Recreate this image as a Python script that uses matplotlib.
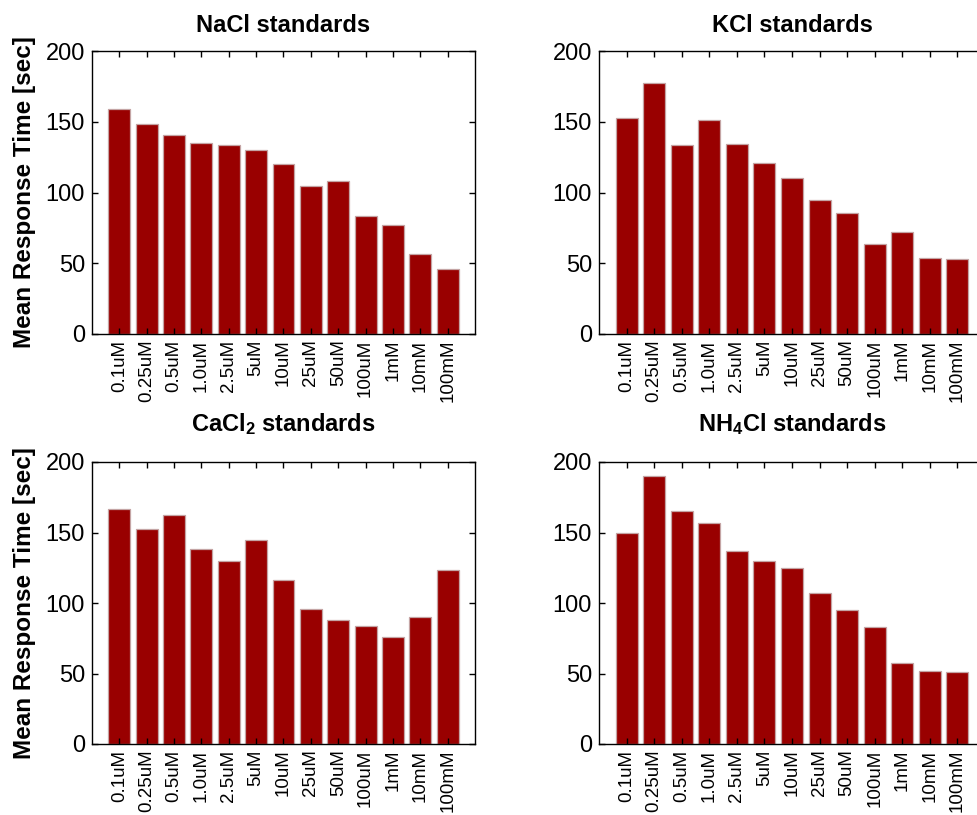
import matplotlib
matplotlib.use('Agg')
import matplotlib.pyplot as plt
import numpy as np

plt.rcParams['font.family'] = ['Liberation Sans', 'DejaVu Sans']
plt.rcParams['mathtext.fontset'] = 'custom'
plt.rcParams['mathtext.rm'] = 'Liberation Sans:bold'
plt.rcParams['mathtext.bf'] = 'Liberation Sans:bold'
plt.rcParams['mathtext.default'] = 'rm'

# -- data
conc = ['0.1uM', '0.25uM', '0.5uM', '1.0uM', '2.5uM', '5uM', '10uM',
        '25uM', '50uM', '100uM', '1mM', '10mM', '100mM']
nacl = [158.7, 148.1, 140.3, 135.1, 133.3, 130.0, 119.8, 104.7, 107.8, 83.3, 76.7, 56.6, 46.0]
kcl = [152.8, 177.6, 133.7, 151.4, 134.4, 121.0, 110.4, 95.0, 85.8, 63.9, 72.4, 53.8, 53.3]
cacl2 = [166.5, 152.4, 162.3, 138.0, 130.0, 145.0, 116.3, 95.5, 87.7, 84.0, 75.7, 90.1, 123.1]
nh4cl = [149.3, 189.9, 164.9, 156.4, 137.0, 130.0, 124.8, 107.3, 94.8, 83.0, 57.8, 52.1, 51.2]

titles = ['NaCl standards', 'KCl standards',
          r'CaCl$_2$ standards', r'NH$_4$Cl standards']
series = [nacl, kcl, cacl2, nh4cl]

barcolor = '#990000'
edgecolor = '#c4a4a4'

W, H = 977, 815
fig = plt.figure(figsize=(W / 100, H / 100), dpi=100)
fig.patch.set_facecolor('white')

# -- axes boxes in pixels: left, top, width, height (right column runs off the page)
boxes = [(92, 51, 383, 283), (599, 51, 386, 283),
         (92, 462, 383, 282), (599, 462, 386, 282)]
title_pads = [13.5, 13.5, 22, 22]

for i in range(4):
    l, t, w, h = boxes[i]
    ax = fig.add_axes([l / W, (H - t - h) / H, w / W, h / H])
    x = np.arange(1, len(conc) + 1)
    ax.bar(x, series[i], width=0.8, color=barcolor, edgecolor=edgecolor, linewidth=0.9)
    ax.set_xlim(0, 14)
    ax.set_ylim(0, 200)
    ax.set_yticks([0, 50, 100, 150, 200])
    ax.set_xticks(x)
    ax.set_xticklabels(conc, rotation=90, fontsize=13.5)
    ax.tick_params(axis='y', labelsize=17, pad=5)
    ax.tick_params(axis='x', pad=4)
    ax.tick_params(direction='in', length=4, width=1.0, top=True, right=True)
    for s in ax.spines.values():
        s.set_linewidth(1.0)
    ax.set_title(titles[i], fontsize=17, fontweight='bold', pad=title_pads[i])
    if i % 2 == 0:
        ax.set_ylabel('Mean Response Time [sec]', fontsize=17.5, fontweight='bold', labelpad=7)

plt.savefig('out.png', dpi=100, facecolor='white')
